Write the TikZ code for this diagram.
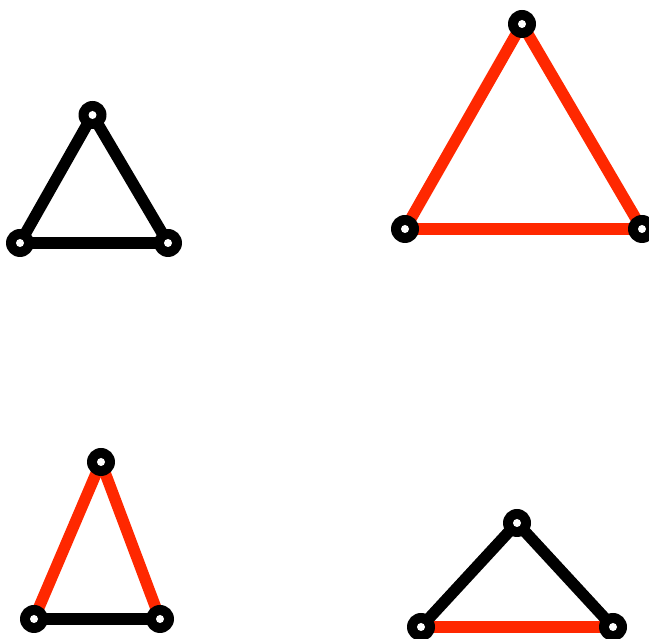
\documentclass[tikz,border=0pt]{standalone}
\usetikzlibrary{backgrounds}
\definecolor{myred}{RGB}{255,40,0}
\tikzset{
  vertex/.style={circle, fill=black, minimum size=28pt, inner sep=0pt,
    path picture={\fill[white] (path picture bounding box.center) circle (4pt);}},
  blk/.style={draw=black, line width=11.5pt},
  rd/.style={draw=myred, line width=11.5pt}
}
\begin{document}
\begin{tikzpicture}[x=1pt,y=1pt]
\useasboundingbox (0,0) rectangle (649,639);
% triangle 1
\node[vertex] (a1) at (92.5,524) {};
\node[vertex] (b1) at (20,396) {};
\node[vertex] (c1) at (168,396) {};
% triangle 2
\node[vertex] (a2) at (522,615) {};
\node[vertex] (b2) at (405,410) {};
\node[vertex] (c2) at (642,410) {};
% triangle 3
\node[vertex] (a3) at (101,177) {};
\node[vertex] (b3) at (34,20) {};
\node[vertex] (c3) at (160,20) {};
% triangle 4
\node[vertex] (a4) at (517,116) {};
\node[vertex] (b4) at (421,12) {};
\node[vertex] (c4) at (613,12) {};
\begin{pgfonlayer}{background}
\draw[blk] (a1.center) -- (b1.center);
\draw[blk] (b1.center) -- (c1.center);
\draw[blk] (c1.center) -- (a1.center);
\draw[rd] (a2.center) -- (b2.center);
\draw[rd] (b2.center) -- (c2.center);
\draw[rd] (c2.center) -- (a2.center);
\draw[rd] (a3.center) -- (b3.center);
\draw[blk] (b3.center) -- (c3.center);
\draw[rd] (c3.center) -- (a3.center);
\draw[blk] (a4.center) -- (b4.center);
\draw[rd] (b4.center) -- (c4.center);
\draw[blk] (c4.center) -- (a4.center);
\end{pgfonlayer}
\end{tikzpicture}
\end{document}
